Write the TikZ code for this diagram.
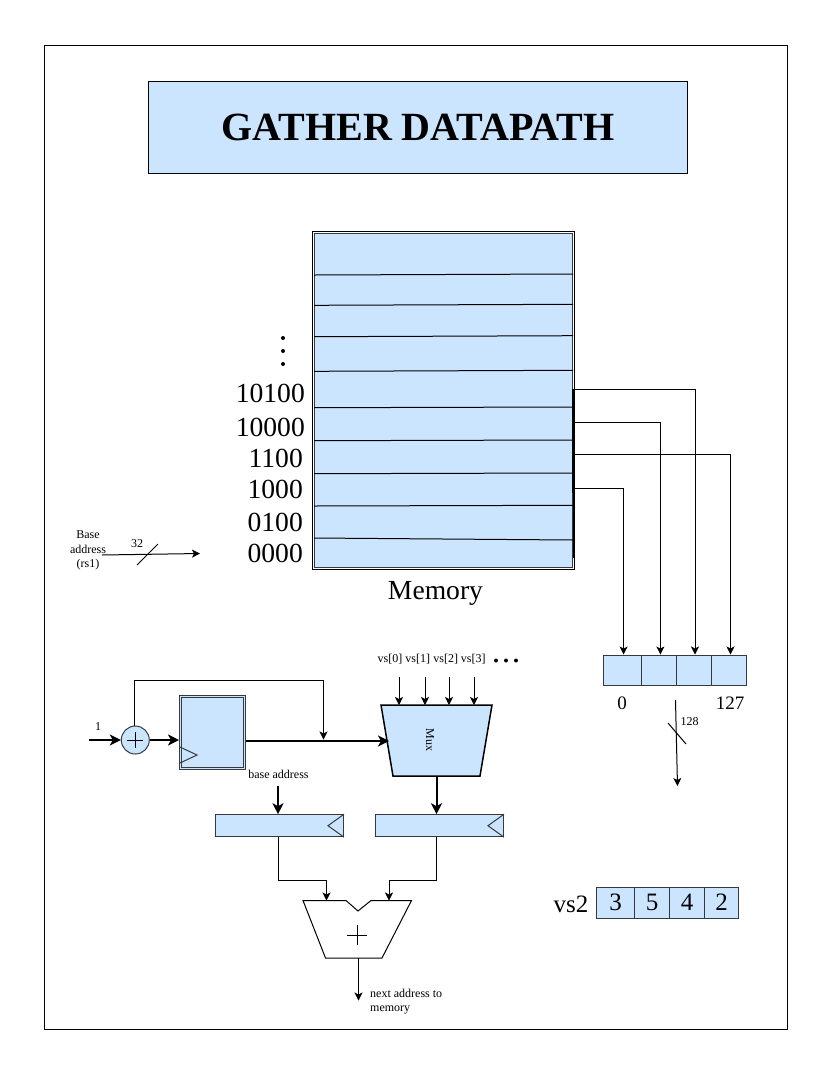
\documentclass[tikz,border=0pt]{standalone}
\usepackage{fontspec}
\setmainfont{Liberation Serif}
\usetikzlibrary{arrows.meta}
\definecolor{cA}{HTML}{cce5ff}
\definecolor{cB}{HTML}{36393d}
\newcommand{\fsz}[1]{\fontsize{#1}{#1}\selectfont}
\tikzset{
  txt/.style={inner sep=0pt,font=\fsz{12}},
  big/.style={inner sep=0pt,font=\fsz{27.6}},
  mid/.style={inner sep=0pt,font=\fsz{19}},
  dgt/.style={inner sep=0pt,font=\fsz{25}},
  cell/.style={draw=cB,fill=cA,line width=1pt,inner sep=0pt,minimum height=#1},
  cell/.default=30pt,
  wire/.style={-{Stealth[length=8pt,width=8pt,inset=2pt]},line width=1pt},
  wide/.style={-{Stealth[length=11pt,width=11pt,inset=3pt]},line width=2pt},
  tick/.style={line width=1pt},
  bdot/.style={circle,fill=black,inner sep=0pt,minimum size=4pt},
  latch/.style={draw=cB,fill=cA,line width=1pt,inner sep=0pt,minimum width=128pt,minimum height=22pt},
}
\begin{document}
\begin{tikzpicture}[x=1pt,y=-1pt]
  \useasboundingbox (0,0) rectangle (829,1072);
  \fill[white] (0,0) rectangle (829,1072);
  \node[draw=black,line width=1pt,minimum width=743pt,minimum height=984pt,inner sep=0pt] (frame) at (415.5,537){};
  \node[draw=black,fill=cA,line width=1pt,minimum width=539pt,minimum height=92pt,inner sep=0pt,font=\fsz{40}\bfseries] (title) at (418,127.5){GATHER DATAPATH};
  % memory
  \node[draw=black,line width=1pt,minimum width=262pt,minimum height=338pt,inner sep=0pt] (memout) at (443.5,400){};
  \node[cell=334pt,minimum width=258pt] (mem) at (443.5,400){};
  \foreach \yl/\yr in {275/274,305.3/304.3,336.7/335.7,371.3/370.3,407.7/407,440.7/440,473.7/473,506/505.3,538/540}
    \draw[line width=1pt] (mem.west |- 0,\yl) -- (mem.east |- 0,\yr);
  \node[big] (memlabel) at (435.5,593){Memory};
  \node[big,anchor=east] (a10100) at (305,393){10100};
  \node[big,anchor=east] (a10000) at (305,427){10000};
  \node[big,anchor=east] (a1100) at (303,458){1100};
  \node[big,anchor=east] (a1000) at (303,489){1000};
  \node[big,anchor=east] (a0100) at (303,522){0100};
  \node[big,anchor=east] (a0000) at (303,553){0000};
  \foreach \yy in {338,351,364}
    \node[bdot] at (283,\yy){};
  % read lines
  \coordinate (bar1) at (573.5,389);
  \coordinate (bar2) at (573.5,493);
  \draw[line width=2.5pt] (bar1) -- (bar2);
  \draw[line width=1pt] (bar2) -- (573.5,558);
  \node[cell,minimum width=38.2pt] (r0) at (622.6,670){};
  \node[cell,minimum width=35pt] (r1) at (659.2,670){};
  \node[cell,minimum width=35pt] (r2) at (694.2,670){};
  \node[cell,minimum width=34.3pt] (r3) at (728.9,670){};
  \coordinate (m0) at (574,488);
  \coordinate (m1) at (574,422);
  \coordinate (m2) at (574,389.5);
  \coordinate (m3) at (574,454.5);
  \draw[wire] (m0) -| ([xshift=1pt]r0.north);
  \draw[wire] (m1) -| ([xshift=1.2pt]r1.north);
  \draw[wire] (m2) -| ([xshift=.8pt]r2.north);
  \draw[wire] (m3) -| ([xshift=1.6pt]r3.north);
  \node[mid] (l0) at (622,703.5){0};
  \node[mid] (l127) at (730,703.5){127};
  \coordinate (o1) at (675.5,700);
  \coordinate (o2) at (677.5,786);
  \draw[wire] (o1) -- (o2);
  \coordinate (t1) at (668,723);
  \coordinate (t2) at (686,744);
  \draw[tick] (t1) -- (t2);
  \node[txt] (w128) at (689.5,722){128};
  % vs2
  \node[dgt] (vsname) at (571,904.5){vs2};
  \node[cell=31pt,minimum width=38pt,dgt] (v0) at (615.5,902.5){\raisebox{-1pt}{3}};
  \node[cell=31pt,minimum width=35pt,dgt] (v1) at (652,902.5){\raisebox{-1pt}{5}};
  \node[cell=31pt,minimum width=35pt,dgt] (v2) at (687,902.5){\raisebox{-1pt}{4}};
  \node[cell=31pt,minimum width=34pt,dgt] (v3) at (721.5,902.5){\raisebox{-1pt}{2}};
  % base address in
  \node[txt,align=center] (base) at (88,550.5){Base\\[2.5pt]address\\[2.5pt](rs1)};
  \coordinate (b1) at (102,555);
  \coordinate (b2) at (200,553.5);
  \draw[wire] (b1) -- (b2);
  \coordinate (t3) at (137,565);
  \coordinate (t4) at (158,544);
  \draw[tick] (t3) -- (t4);
  \node[txt] (w32) at (137,544){32};
  % counter
  \node[circle,draw=cB,fill=cA,line width=1pt,minimum size=28pt,inner sep=0pt] (inc) at (135.3,740){};
  \draw[line width=.8pt] ([xshift=-8pt]inc.center) -- ([xshift=8pt]inc.center);
  \draw[line width=.8pt] ([yshift=-8pt]inc.center) -- ([yshift=8pt]inc.center);
  \node[cell=74pt,minimum width=66pt] (pcout) at (212.5,732){};
  \node[cell=70pt,minimum width=62.5pt] (pc) at (212.5,732){};
  \coordinate (clk1) at (180,747);
  \coordinate (clk2) at (197,755);
  \coordinate (clk3) at (180,763);
  \draw[line width=1pt,cB] (clk1) -- (clk2) -- (clk3);
  \coordinate (one) at (89,740);
  \node[txt] (onelabel) at (98,727){1};
  \draw[wide] (one) -- (inc);
  \draw[wide] (inc) -- (pcout.west |- inc);
  % mux
  \coordinate (muxin) at (389,741);
  \coordinate (muxtop) at (436.5,705);
  \coordinate (muxbot) at (436.5,776);
  \draw[fill=cA,line width=1.5pt] (381,705) -- (492,705) -- (480,776) -- (393,776) -- cycle;
  \node[txt,rotate=-90] (muxlabel) at (430,740){Mux};
  \coordinate (pcq) at (246,741);
  \draw[wide] (pcq) -- (muxin);
  \coordinate (fb) at (134.5,680);
  \draw[line width=1pt] (inc.north -| fb) -- (fb);
  \draw[wire] (fb) -- (323.5,680) -- (323.5,739.5);
  \foreach \xl/\xa/\nn in {390/399/0,417.7/425/1,445.7/449/2,473.3/474/3}{
    \node[txt] (vs\nn) at (\xl,659){vs[\nn]};
    \coordinate (in\nn) at (\xa,677);
    \draw[wire] (in\nn) -- (in\nn |- muxtop);
  }
  \foreach \xx in {496,506,516}
    \node[bdot] at (\xx,660.5){};
  % latches
  \node[latch] (la) at (279.5,825.7){};
  \node[latch] (lb) at (439.5,825.7){};
  \draw[line width=1pt,cB] (la.north east) -- (328,825.7) -- (la.south east);
  \draw[line width=1pt,cB] (lb.north east) -- (488,825.7) -- (lb.south east);
  \node[txt] (baselabel) at (278.5,774){base address};
  \coordinate (ba) at (278,786);
  \draw[wide] (ba) -- (ba |- la.north);
  \draw[wide] (muxbot) -- (muxbot |- lb.north);
  % adder
  \coordinate (add1) at (326.5,900.5);
  \coordinate (add2) at (389,900.5);
  \draw[line width=1pt] (303,900.5) -- (346,900.5) -- (358,911) -- (371,900.5) -- (411.5,900.5) -- (382,958) -- (325.5,958) -- cycle;
  \coordinate (addplus) at (357,935);
  \draw[line width=1pt] ([xshift=-10pt]addplus) -- ([xshift=10pt]addplus);
  \draw[line width=1pt] ([yshift=-10pt]addplus) -- ([yshift=10pt]addplus);
  \coordinate (laq) at (278.5,837);
  \coordinate (lbq) at (436.5,837);
  \draw[wire] (laq) -- (278.5,880) -| (add1);
  \draw[wire] (lbq) -- (436.5,880) -| (add2);
  \coordinate (addq) at (358.5,958);
  \draw[wire] (addq) -- (358.5,1000.5);
  \node[txt,align=left,anchor=north west] (nextlabel) at (370,988.5){next address to\\[2pt]memory};
\end{tikzpicture}
\end{document}
